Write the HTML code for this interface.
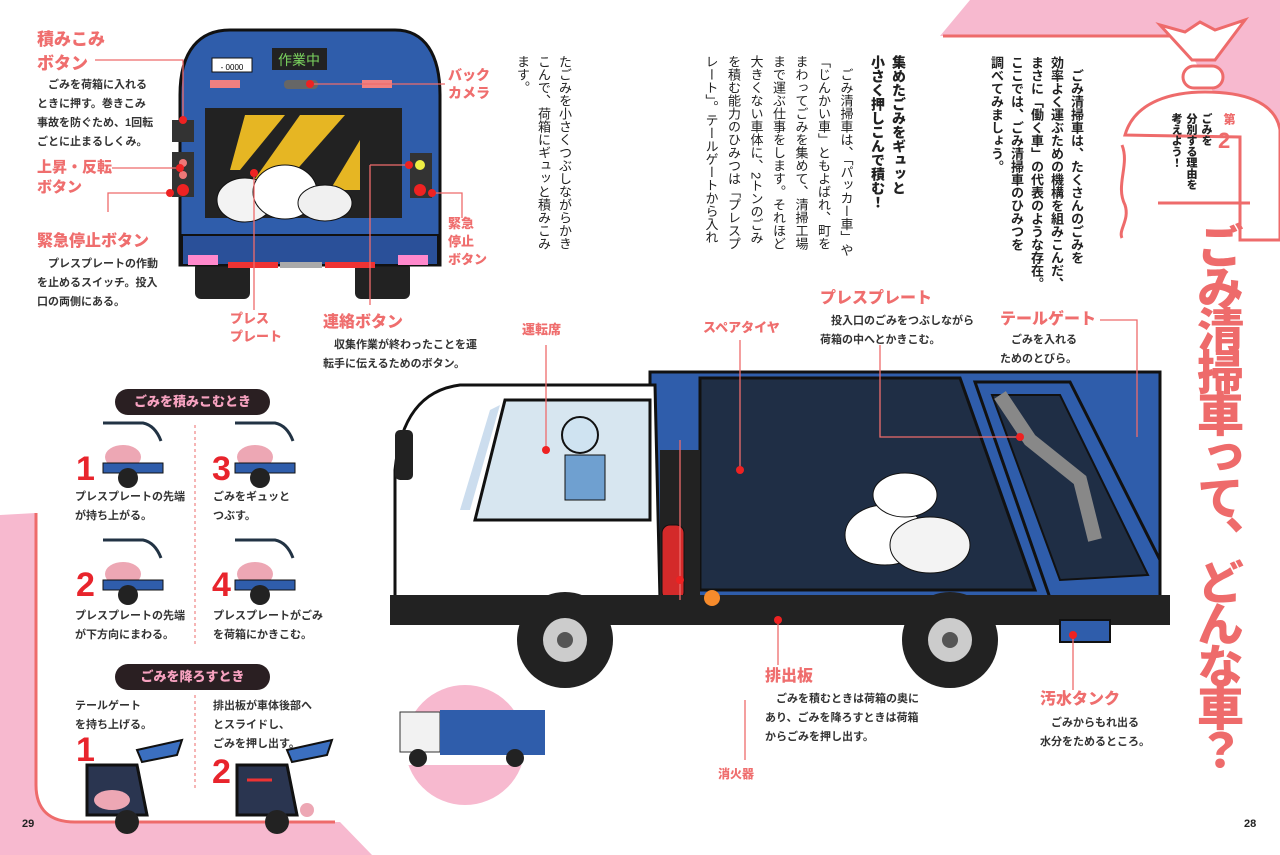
<!DOCTYPE html>
<html><head><meta charset="utf-8">
<style>
*{margin:0;padding:0;box-sizing:border-box}
body{width:1280px;height:855px;background:#fff;position:relative;overflow:hidden;font-family:"Liberation Sans","Noto Sans CJK JP",sans-serif;color:#222}
.a{position:absolute}
.v{writing-mode:vertical-rl;position:absolute;white-space:nowrap}
.lbl{position:absolute;color:#ef6e6e;font-weight:900;font-size:16px;line-height:24px;white-space:nowrap}
.t{position:absolute;font-size:11px;line-height:19px;font-weight:700;color:#333;white-space:nowrap}
.pill{position:absolute;background:#2a1f22;color:#f7a2c0;border-radius:14px;font-weight:900;font-size:13px;text-align:center;height:26px;line-height:26px}
.num{position:absolute;color:#e8242c;font-weight:900;font-size:34px;line-height:34px}
</style></head><body>
<svg class="a" style="left:0;top:0" width="1280" height="855">
 <polygon points="970,0 1280,0 1280,210 1230,120 1180,36 940,36" fill="#f7b9cf"/>
 <line x1="943" y1="36" x2="1172" y2="36" stroke="#ee6b6b" stroke-width="3"/>
 <path d="M1160,25 L1185,32 L1200,22 L1215,30 L1245,20 L1215,60 L1192,60 Z" fill="#fff" stroke="#ee6b6b" stroke-width="3"/>
 <rect x="1183" y="66" width="40" height="22" rx="11" fill="#fff" stroke="#ee6b6b" stroke-width="3"/>
 <path d="M1125,135 C1135,100 1175,92 1205,92 C1240,92 1275,100 1280,130 L1280,240 L1240,240 L1240,137 Z" fill="#fff" stroke="#ee6b6b" stroke-width="3"/>
 <path d="M1122,145 C1130,165 1115,185 1125,205 C1130,220 1118,230 1122,238" fill="none" stroke="#ee6b6b" stroke-width="3"/>
 <line x1="1158" y1="203" x2="1250" y2="203" stroke="#ee6b6b" stroke-width="3"/>
 <path d="M0,515 L0,855 L372,855 L340,822 L70,822 C45,822 36,805 36,780 L36,513 Z" fill="#f7b9cf"/>
 <path d="M36,513 L36,785 C36,810 50,822 75,822 L335,822" fill="none" stroke="#ee6b6b" stroke-width="3"/>
 <g>
  <rect x="195" y="262" width="55" height="37" rx="6" fill="#222"/>
  <rect x="355" y="262" width="55" height="37" rx="6" fill="#222"/>
  <path d="M180,265 L180,95 C180,50 200,30 230,30 L395,30 C425,30 440,55 440,95 L440,265 Z" fill="#2f5dab" stroke="#111" stroke-width="3"/>
  <rect x="272" y="48" width="55" height="22" fill="#222"/><text x="299" y="65" font-size="14" fill="#7bd35f" text-anchor="middle" font-family="Noto Sans CJK JP">作業中</text>
  <rect x="212" y="58" width="40" height="14" fill="#fff" stroke="#111"/><text x="232" y="70" font-size="8" text-anchor="middle">- 0000</text>
  <rect x="210" y="80" width="30" height="8" fill="#f08080"/><rect x="362" y="80" width="30" height="8" fill="#f08080"/>
  <rect x="284" y="80" width="34" height="9" rx="4" fill="#666"/>
  <rect x="205" y="108" width="197" height="110" fill="#222"/>
  <polygon points="245,115 285,115 240,170 230,170" fill="#e6b623"/><polygon points="300,115 345,115 270,200 240,200" fill="#e6b623"/><polygon points="360,140 360,190 330,190" fill="#e6b623"/>
  <ellipse cx="245" cy="200" rx="28" ry="22" fill="#f3f3f3" stroke="#111"/><ellipse cx="285" cy="192" rx="32" ry="27" fill="#fff" stroke="#111"/><ellipse cx="325" cy="203" rx="27" ry="18" fill="#f0f0f0" stroke="#111"/>
  <rect x="172" y="120" width="22" height="22" fill="#333"/><rect x="172" y="152" width="22" height="45" fill="#333"/><circle cx="183" cy="163" r="4" fill="#e77"/><circle cx="183" cy="175" r="4" fill="#e77"/><circle cx="183" cy="190" r="6" fill="#e22"/>
  <rect x="410" y="153" width="22" height="45" fill="#333"/><circle cx="420" cy="165" r="5" fill="#ee4"/><circle cx="420" cy="190" r="6" fill="#e22"/>
  <rect x="182" y="235" width="256" height="30" fill="#2a5099" stroke="#111" stroke-width="2"/>
  <rect x="228" y="262" width="50" height="6" fill="#e33"/><rect x="325" y="262" width="50" height="6" fill="#e33"/><rect x="280" y="262" width="42" height="6" fill="#aaa"/>
  <rect x="188" y="255" width="30" height="10" fill="#f8c"/><rect x="398" y="255" width="30" height="10" fill="#f8c"/>
 </g>
 <g stroke="#ee6b6b" stroke-width="1.3" fill="none">
  <polyline points="95,60 183,60 183,120"/><polyline points="112,168 180,168"/>
  <polyline points="108,212 108,193 170,193"/>
  <polyline points="310,84 445,84"/><polyline points="432,193 462,193 462,218"/>
  <polyline points="254,173 254,310"/><polyline points="370,165 409,165"/><polyline points="370,165 370,305"/>
 </g>
 <g fill="#e22"><circle cx="183" cy="120" r="4"/><circle cx="180" cy="168" r="4"/><circle cx="170" cy="193" r="4"/><circle cx="254" cy="173" r="4"/><circle cx="409" cy="165" r="4"/><circle cx="432" cy="193" r="4"/><circle cx="310" cy="84" r="4"/></g>
 <g>
  <rect x="650" y="372" width="510" height="230" fill="#2f5dab" stroke="#111" stroke-width="3"/>
  <polygon points="700,378 960,378 1035,590 700,590" fill="#1f2e45" stroke="#111" stroke-width="3"/>
  <polygon points="975,382 1070,382 1160,560 1160,598 1050,598" fill="#2f5dab" stroke="#111" stroke-width="3"/>
  <polygon points="992,395 1060,395 1148,575 1060,580" fill="#1f2e45" stroke="#111" stroke-width="2"/>
  <path d="M1000,395 L1030,440 L1080,480 L1095,540" stroke="#888" stroke-width="14" fill="none"/>
  <ellipse cx="885" cy="535" rx="40" ry="30" fill="#fff" stroke="#111"/><ellipse cx="930" cy="545" rx="40" ry="28" fill="#f3f3f3" stroke="#111"/><ellipse cx="905" cy="495" rx="32" ry="22" fill="#fff" stroke="#111"/>
  <path d="M395,600 L395,470 C400,420 420,390 460,385 L655,385 L660,600 Z" fill="#fff" stroke="#111" stroke-width="3"/>
  <polygon points="505,400 650,400 650,520 475,520" fill="#d7e6f0" stroke="#111" stroke-width="3"/>
  <polygon points="490,410 500,405 470,510 460,510" fill="#cde"/>
  <circle cx="580" cy="435" r="18" fill="#cfe3f1" stroke="#111" stroke-width="2"/>
  <rect x="565" y="455" width="40" height="45" fill="#6fa0d0" stroke="#111"/>
  <rect x="395" y="430" width="18" height="50" rx="5" fill="#222"/>
  <rect x="660" y="450" width="40" height="150" fill="#222"/>
  <rect x="662" y="525" width="22" height="75" rx="8" fill="#d42a2a" stroke="#111"/>
  <rect x="390" y="595" width="780" height="30" fill="#222"/>
  <rect x="1060" y="620" width="50" height="22" fill="#2f5dab" stroke="#111" stroke-width="2"/>
  <circle cx="712" cy="598" r="8" fill="#f68b2c"/>
  <circle cx="565" cy="640" r="48" fill="#222"/><circle cx="565" cy="640" r="22" fill="#ccc"/><circle cx="565" cy="640" r="8" fill="#555"/>
  <circle cx="950" cy="640" r="48" fill="#222"/><circle cx="950" cy="640" r="22" fill="#ccc"/><circle cx="950" cy="640" r="8" fill="#555"/>
 </g>
 <g stroke="#ee6b6b" stroke-width="1.3" fill="none">
  <polyline points="546,345 546,450"/><polyline points="740,340 740,470"/><polyline points="880,345 880,437 1020,437"/>
  <polyline points="1100,320 1137,320 1137,437"/><polyline points="778,620 778,665"/><polyline points="680,440 680,600"/>
  <polyline points="745,700 745,760"/><polyline points="1073,635 1073,690"/>
 </g>
 <g fill="#e22"><circle cx="546" cy="450" r="4"/><circle cx="740" cy="470" r="4"/><circle cx="1020" cy="437" r="4"/><circle cx="778" cy="620" r="4"/><circle cx="680" cy="580" r="4"/><circle cx="1073" cy="635" r="4"/></g>
 <circle cx="465" cy="745" r="60" fill="#f7b9cf"/>
 <rect x="395" y="715" width="150" height="50" fill="#fff"/>
 <rect x="400" y="712" width="40" height="40" fill="#f2f2f2" stroke="#333"/><rect x="440" y="710" width="105" height="45" fill="#2f5dab"/>
 <circle cx="418" cy="758" r="9" fill="#222"/><circle cx="515" cy="758" r="9" fill="#222"/>
 <g stroke="#ee6b6b" stroke-width="1" stroke-dasharray="3,3"><line x1="195" y1="425" x2="195" y2="645"/><line x1="195" y1="695" x2="195" y2="790"/></g>
 <g>
  <g transform="translate(103,423)"><path d="M0,0 L40,0 C50,2 55,10 58,18" fill="none" stroke="#234" stroke-width="3"/><ellipse cx="20" cy="34" rx="18" ry="12" fill="#eda7b4"/><rect x="0" y="40" width="60" height="10" fill="#2f5dab" stroke="#111"/><circle cx="25" cy="55" r="10" fill="#222"/></g>
  <g transform="translate(235,423)"><path d="M0,0 L40,0 C50,2 55,10 58,18" fill="none" stroke="#234" stroke-width="3"/><ellipse cx="20" cy="34" rx="18" ry="12" fill="#eda7b4"/><rect x="0" y="40" width="60" height="10" fill="#2f5dab" stroke="#111"/><circle cx="25" cy="55" r="10" fill="#222"/></g>
  <g transform="translate(103,540)"><path d="M0,0 L40,0 C50,2 55,10 58,18" fill="none" stroke="#234" stroke-width="3"/><ellipse cx="20" cy="34" rx="18" ry="12" fill="#eda7b4"/><rect x="0" y="40" width="60" height="10" fill="#2f5dab" stroke="#111"/><circle cx="25" cy="55" r="10" fill="#222"/></g>
  <g transform="translate(235,540)"><path d="M0,0 L40,0 C50,2 55,10 58,18" fill="none" stroke="#234" stroke-width="3"/><ellipse cx="20" cy="34" rx="18" ry="12" fill="#eda7b4"/><rect x="0" y="40" width="60" height="10" fill="#2f5dab" stroke="#111"/><circle cx="25" cy="55" r="10" fill="#222"/></g>
  <g transform="translate(87,740)"><polygon points="50,10 95,0 90,15 55,22" fill="#3b6fc0" stroke="#111" stroke-width="2"/><polygon points="0,25 50,25 60,75 0,75" fill="#2a3550" stroke="#111" stroke-width="3"/><ellipse cx="25" cy="60" rx="18" ry="10" fill="#eda7b4"/><circle cx="40" cy="82" r="12" fill="#222"/></g>
  <g transform="translate(237,740)"><polygon points="50,10 95,0 90,15 55,22" fill="#3b6fc0" stroke="#111" stroke-width="2"/><polygon points="0,25 50,25 60,75 0,75" fill="#2a3550" stroke="#111" stroke-width="3"/><line x1="10" y1="40" x2="35" y2="40" stroke="#e33" stroke-width="3"/><circle cx="40" cy="82" r="12" fill="#222"/><circle cx="70" cy="70" r="7" fill="#eda7b4"/></g>
 </g>
</svg>

<div class="v" style="left:1188px;top:222px;font-size:47px;line-height:56px;height:560px;font-weight:900;color:#ee6b6b;letter-spacing:-5px">ごみ清掃車って、どんな車？</div>
<div class="v" style="left:1222px;top:113px;font-size:12px;font-weight:900;color:#ee6b6b;line-height:14px">第</div>
<div class="a" style="left:1218px;top:128px;font-size:22px;font-weight:900;color:#ee6b6b">2</div>
<div class="v" style="left:1168px;top:113px;font-size:11px;font-weight:900;line-height:15px">ごみを<br>分別する理由を<br>考えよう！</div>

<div class="v" style="left:986px;top:56px;font-size:13px;line-height:20px;font-weight:700">　ごみ清掃車は、たくさんのごみを<br>効率よく運ぶための機構を組みこんだ、<br>まさに「働く車」の代表のような存在。<br>ここでは、ごみ清掃車のひみつを<br>調べてみましょう。</div>

<div class="v" style="left:867px;top:55px;font-size:14px;line-height:21px;font-weight:900">集めたごみをギュッと<br>小さく押しこんで積む！</div>
<div class="v" style="left:699px;top:55px;font-size:13px;line-height:22.5px">　ごみ清掃車は、「パッカー車」や<br>「じんかい車」ともよばれ、町を<br>まわってごみを集めて、清掃工場<br>まで運ぶ仕事をします。それほど<br>大きくない車体に、2トンのごみ<br>を積む能力のひみつは「プレスプ<br>レート」。テールゲートから入れ</div>
<div class="v" style="left:512px;top:55px;font-size:13px;line-height:21px">たごみを小さくつぶしながらかき<br>こんで、荷箱にギュッと積みこみ<br>ます。</div>

<div class="lbl" style="left:37px;top:28px;font-size:17px">積みこみ<br>ボタン</div>
<div class="t" style="left:37px;top:76px">　ごみを荷箱に入れる<br>ときに押す。巻きこみ<br>事故を防ぐため、1回転<br>ごとに止まるしくみ。</div>
<div class="lbl" style="left:37px;top:158px;font-size:15px;line-height:20px">上昇・反転<br>ボタン</div>
<div class="lbl" style="left:37px;top:230px;font-size:16px">緊急停止ボタン</div>
<div class="t" style="left:37px;top:255px">　プレスプレートの作動<br>を止めるスイッチ。投入<br>口の両側にある。</div>
<div class="lbl" style="left:448px;top:66px;font-size:14px;line-height:18px">バック<br>カメラ</div>
<div class="lbl" style="left:448px;top:215px;font-size:13px;line-height:18px">緊急<br>停止<br>ボタン</div>
<div class="lbl" style="left:230px;top:310px;font-size:13px;line-height:18px">プレス<br>プレート</div>
<div class="lbl" style="left:323px;top:311px;font-size:16px">連絡ボタン</div>
<div class="t" style="left:323px;top:336px">　収集作業が終わったことを運<br>転手に伝えるためのボタン。</div>

<div class="lbl" style="left:522px;top:318px;font-size:13px">運転席</div>
<div class="lbl" style="left:703px;top:316px;font-size:13px">スペアタイヤ</div>
<div class="lbl" style="left:820px;top:287px;font-size:16px">プレスプレート</div>
<div class="t" style="left:820px;top:312px">　投入口のごみをつぶしながら<br>荷箱の中へとかきこむ。</div>
<div class="lbl" style="left:1000px;top:308px;font-size:16px">テールゲート</div>
<div class="t" style="left:1000px;top:331px">　ごみを入れる<br>ためのとびら。</div>
<div class="lbl" style="left:765px;top:665px;font-size:16px">排出板</div>
<div class="t" style="left:765px;top:690px">　ごみを積むときは荷箱の奥に<br>あり、ごみを降ろすときは荷箱<br>からごみを押し出す。</div>
<div class="lbl" style="left:718px;top:762px;font-size:12px">消火器</div>
<div class="lbl" style="left:1040px;top:688px;font-size:16px">汚水タンク</div>
<div class="t" style="left:1040px;top:714px">　ごみからもれ出る<br>水分をためるところ。</div>

<div class="pill" style="left:115px;top:389px;width:155px">ごみを積みこむとき</div>
<div class="num" style="left:76px;top:452px">1</div>
<div class="num" style="left:212px;top:452px">3</div>
<div class="num" style="left:76px;top:568px">2</div>
<div class="num" style="left:212px;top:568px">4</div>
<div class="t" style="left:75px;top:488px">プレスプレートの先端<br>が持ち上がる。</div>
<div class="t" style="left:213px;top:488px">ごみをギュッと<br>つぶす。</div>
<div class="t" style="left:75px;top:607px">プレスプレートの先端<br>が下方向にまわる。</div>
<div class="t" style="left:213px;top:607px">プレスプレートがごみ<br>を荷箱にかきこむ。</div>
<div class="pill" style="left:115px;top:664px;width:155px">ごみを降ろすとき</div>
<div class="t" style="left:75px;top:697px">テールゲート<br>を持ち上げる。</div>
<div class="t" style="left:213px;top:697px">排出板が車体後部へ<br>とスライドし、<br>ごみを押し出す。</div>
<div class="num" style="left:76px;top:733px">1</div>
<div class="num" style="left:212px;top:755px">2</div>
<div class="a" style="left:22px;top:818px;font-size:11px;font-weight:700">29</div>
<div class="a" style="left:1244px;top:818px;font-size:11px;font-weight:700">28</div>
</body></html>
